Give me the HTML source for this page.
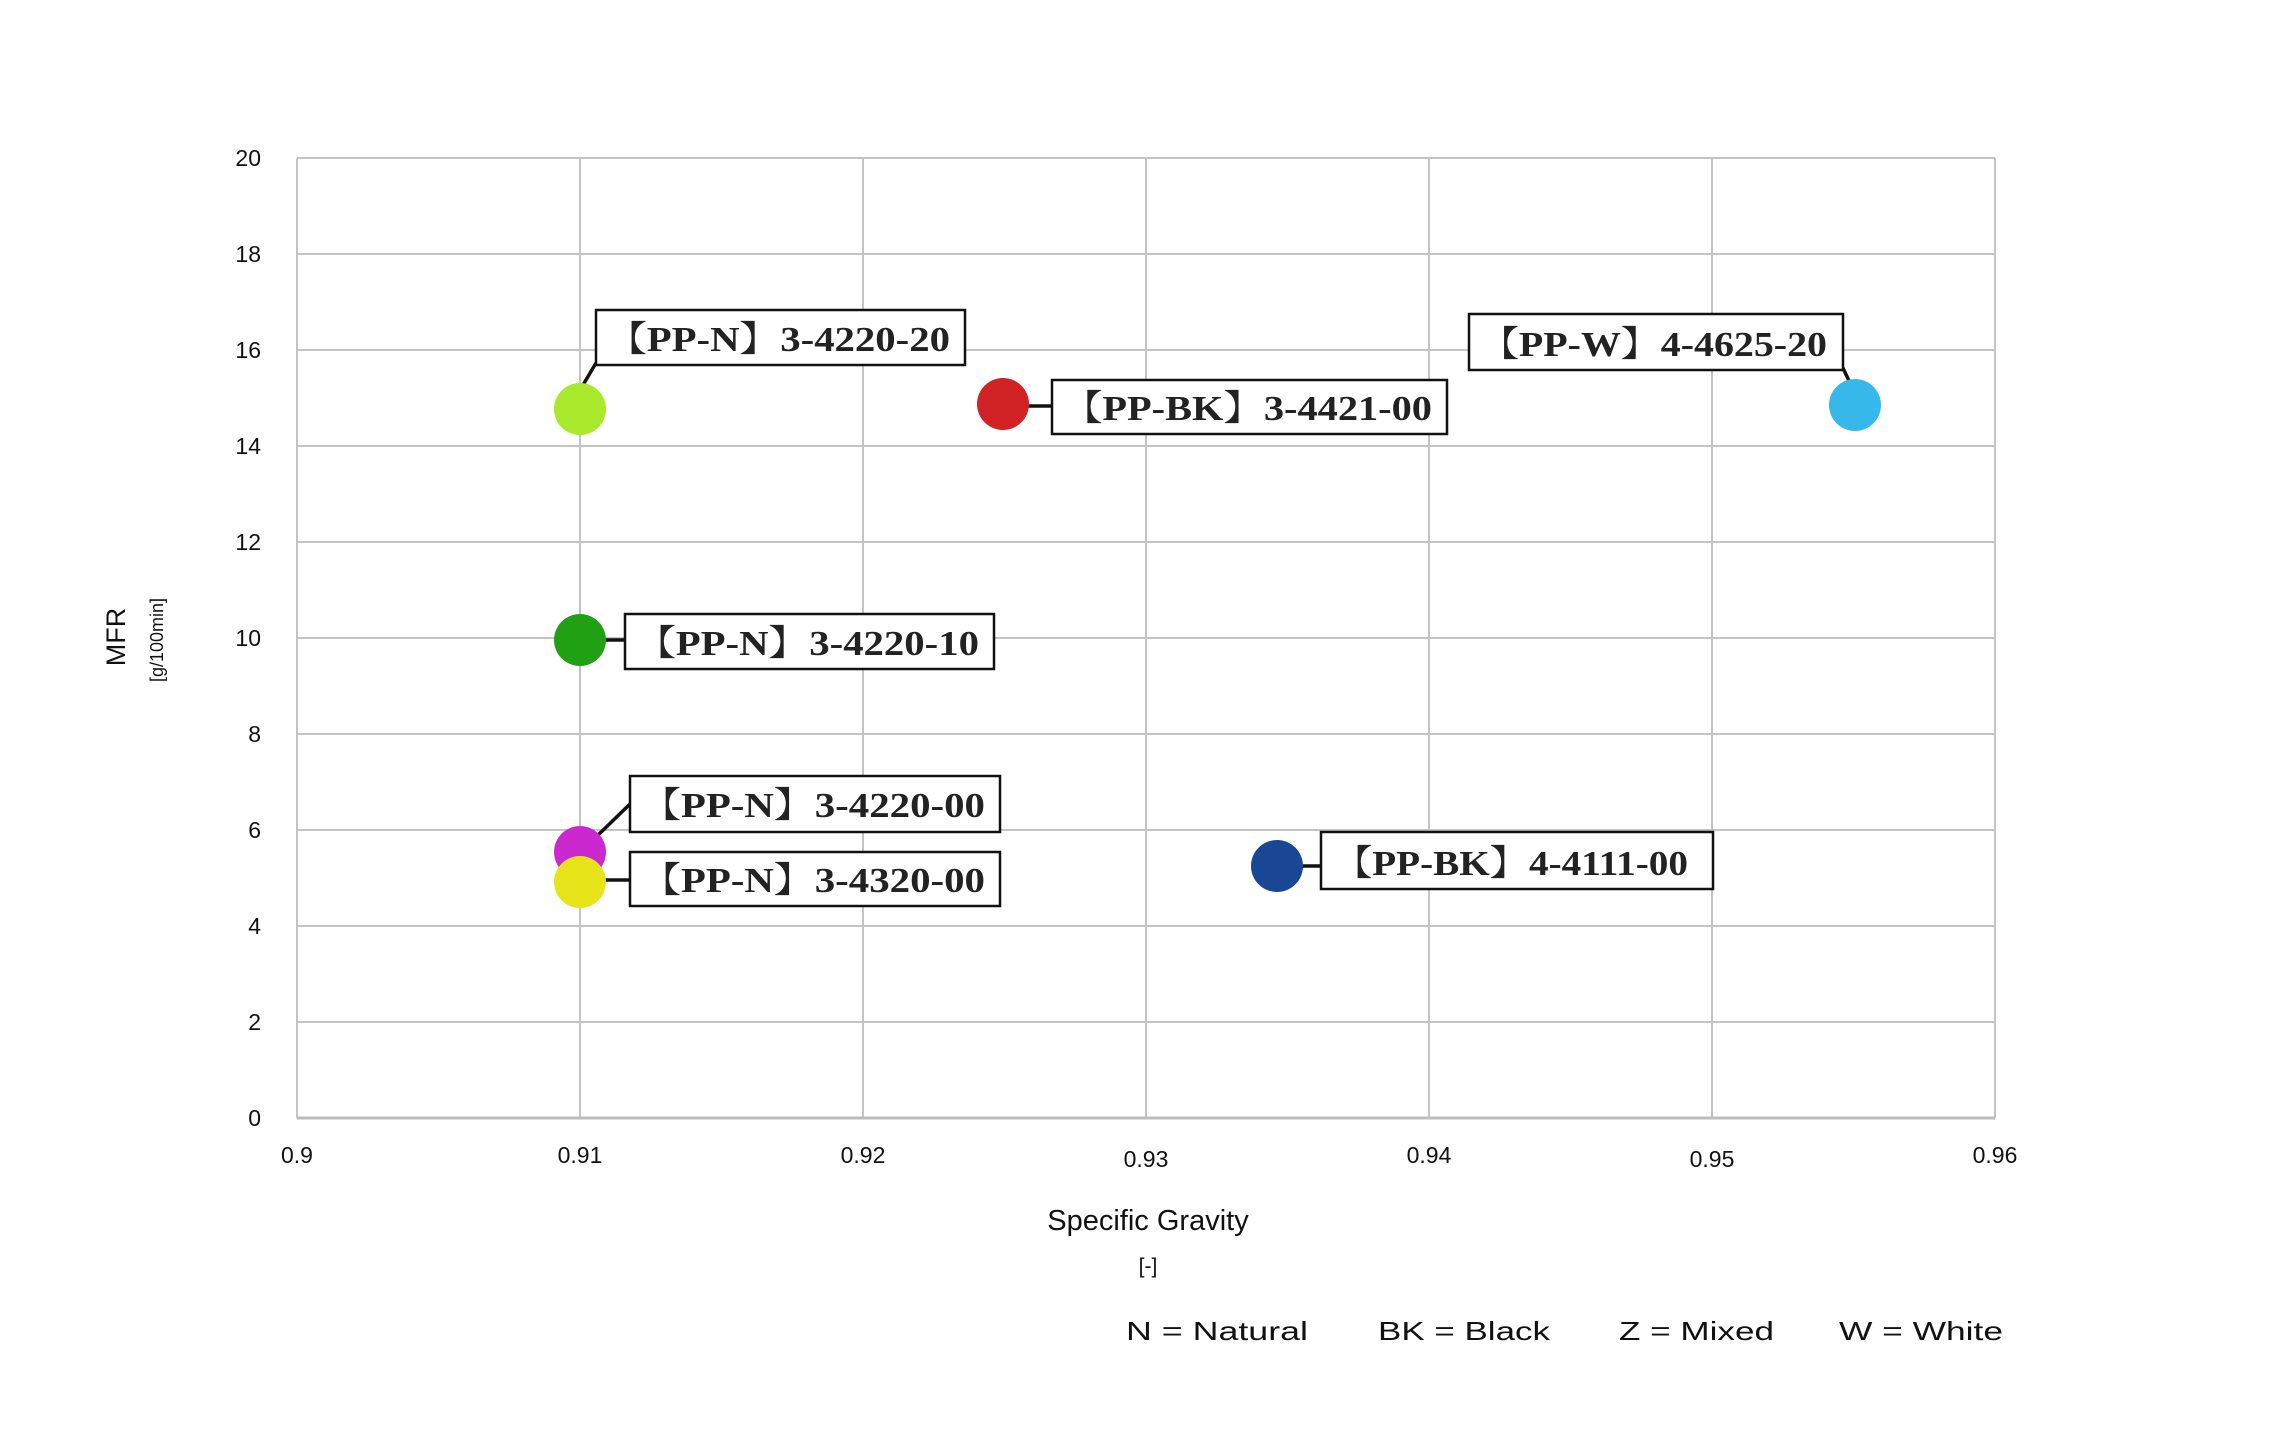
<!DOCTYPE html>
<html><head><meta charset="utf-8"><style>
html,body{margin:0;padding:0;background:#fff;}
svg{display:block;}
.t{font-family:"Liberation Sans","DejaVu Sans",sans-serif;fill:#111;}
.l{font-family:"Liberation Serif","Noto Serif CJK SC",serif;fill:#222;font-size:35px;font-weight:bold;}
</style></head><body>
<svg width="2280" height="1444" viewBox="0 0 2280 1444" xmlns="http://www.w3.org/2000/svg">
<g stroke="#c4c4c4" stroke-width="2" fill="none">
<line x1="297" y1="158" x2="1995" y2="158"/>
<line x1="297" y1="254" x2="1995" y2="254"/>
<line x1="297" y1="350" x2="1995" y2="350"/>
<line x1="297" y1="446" x2="1995" y2="446"/>
<line x1="297" y1="542" x2="1995" y2="542"/>
<line x1="297" y1="638" x2="1995" y2="638"/>
<line x1="297" y1="734" x2="1995" y2="734"/>
<line x1="297" y1="830" x2="1995" y2="830"/>
<line x1="297" y1="926" x2="1995" y2="926"/>
<line x1="297" y1="1022" x2="1995" y2="1022"/>
<line x1="297" y1="158" x2="297" y2="1118"/>
<line x1="580" y1="158" x2="580" y2="1118"/>
<line x1="863" y1="158" x2="863" y2="1118"/>
<line x1="1146" y1="158" x2="1146" y2="1118"/>
<line x1="1429" y1="158" x2="1429" y2="1118"/>
<line x1="1712" y1="158" x2="1712" y2="1118"/>
<line x1="1995" y1="158" x2="1995" y2="1118"/>
</g>
<line x1="297" y1="1118" x2="1995" y2="1118" stroke="#bcbcbc" stroke-width="3"/>
<g class="t" font-size="23" text-anchor="end">
<text x="261" y="166">20</text><text x="261" y="262">18</text><text x="261" y="358">16</text>
<text x="261" y="454">14</text><text x="261" y="550">12</text><text x="261" y="646">10</text>
<text x="261" y="742">8</text><text x="261" y="838">6</text><text x="261" y="934">4</text>
<text x="261" y="1030">2</text><text x="261" y="1126">0</text>
</g>
<g class="t" font-size="23" text-anchor="middle">
<text x="297" y="1163">0.9</text><text x="580" y="1163">0.91</text><text x="863" y="1163">0.92</text>
<text x="1146" y="1167">0.93</text><text x="1429" y="1163">0.94</text><text x="1712" y="1167">0.95</text>
<text x="1995" y="1163">0.96</text>
<text x="1148" y="1230" font-size="29">Specific Gravity</text>
<text x="1148" y="1273" font-size="21">[-]</text>
</g>
<text class="t" font-size="27" transform="translate(125,637) rotate(-90)" text-anchor="middle">MFR</text>
<text class="t" font-size="18" transform="translate(163,640) rotate(-90)" text-anchor="middle">[g/100min]</text>
<g class="t" font-size="26">
<text x="1126" y="1340" textLength="182" lengthAdjust="spacingAndGlyphs">N = Natural</text>
<text x="1378" y="1340" textLength="172" lengthAdjust="spacingAndGlyphs">BK = Black</text>
<text x="1619" y="1340" textLength="155" lengthAdjust="spacingAndGlyphs">Z = Mixed</text>
<text x="1839" y="1340" textLength="164" lengthAdjust="spacingAndGlyphs">W = White</text>
</g>
<g stroke="#111" stroke-width="3.5">
<line x1="583" y1="385" x2="596" y2="363"/>
<line x1="1022" y1="406" x2="1052" y2="406"/>
<line x1="1843" y1="368" x2="1850" y2="383"/>
<line x1="600" y1="640" x2="625" y2="640"/>
<line x1="595" y1="838" x2="630" y2="804"/>
<line x1="598" y1="880" x2="630" y2="880"/>
<line x1="1295" y1="866" x2="1321" y2="866"/>
</g>
<circle cx="580" cy="409" r="26" fill="#a8e92b"/>
<circle cx="1003" cy="404" r="26" fill="#d12226"/>
<circle cx="1855" cy="405" r="26" fill="#36b9ea"/>
<circle cx="580" cy="640" r="26" fill="#22a014"/>
<circle cx="580" cy="852" r="26" fill="#cc28d0"/>
<circle cx="580" cy="882" r="26" fill="#e8e41a"/>
<circle cx="1277" cy="866" r="26" fill="#1a4696"/>
<g fill="#fff" stroke="#111" stroke-width="2.5">
<rect x="596" y="310" width="369" height="55"/>
<rect x="1052" y="380" width="395" height="54"/>
<rect x="1469" y="314" width="374" height="56"/>
<rect x="625" y="614" width="369" height="55"/>
<rect x="630" y="776" width="370" height="56"/>
<rect x="630" y="852" width="370" height="54"/>
<rect x="1321" y="832" width="392" height="57"/>
</g>
<g class="l">
<text x="606" y="351" textLength="344" lengthAdjust="spacingAndGlyphs">【PP-N】3-4220-20</text>
<text x="1062" y="420" textLength="370" lengthAdjust="spacingAndGlyphs">【PP-BK】3-4421-00</text>
<text x="1479" y="356" textLength="348" lengthAdjust="spacingAndGlyphs">【PP-W】4-4625-20</text>
<text x="635" y="655" textLength="344" lengthAdjust="spacingAndGlyphs">【PP-N】3-4220-10</text>
<text x="640" y="817" textLength="345" lengthAdjust="spacingAndGlyphs">【PP-N】3-4220-00</text>
<text x="640" y="892" textLength="345" lengthAdjust="spacingAndGlyphs">【PP-N】3-4320-00</text>
<text x="1333" y="875" textLength="355" lengthAdjust="spacingAndGlyphs">【PP-BK】4-4111-00</text>
</g>
</svg>
</body></html>
